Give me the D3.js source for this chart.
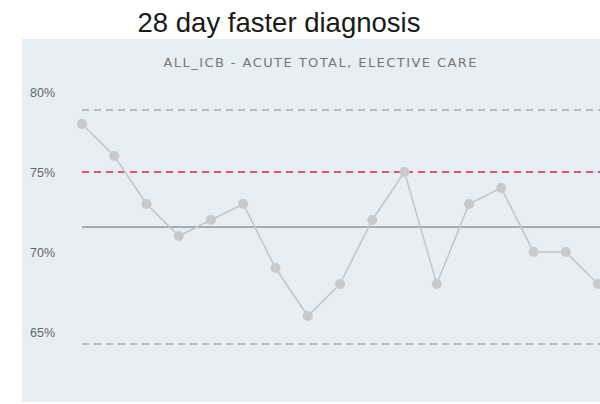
<!DOCTYPE html>
<html>
<head>
<meta charset="utf-8">
<script src="https://cdn.jsdelivr.net/npm/d3@7"></script>
<style>
  html, body { margin: 0; padding: 0; background: #ffffff; }
  svg { display: block; }
</style>
</head>
<body>
<div id="chart"></div>
<script>
// Monthly share of patients given a diagnosis within 28 days (%)
const periods = d3.range(1, 18);
const values = [78, 76, 73, 71, 72, 73, 69, 66, 68, 72, 75, 68, 73, 74, 70, 70, 68];
const tickValues = [65, 70, 75, 80];
const tickLabels = ["65%", "70%", "75%", "80%"];
const meanValue = 71.56;
const upperLimit = 78.88;
const lowerLimit = 64.25;
const targetValue = 75;

const W = 600, H = 404;
const svg = d3.select("#chart").append("svg").attr("width", W).attr("height", H);

// Panel background
svg.append("rect")
  .attr("x", 22).attr("y", 39).attr("width", W - 22).attr("height", 363)
  .attr("fill", "#e7eef4");

// Title and subtitle
svg.append("text")
  .attr("x", 279).attr("y", 32)
  .attr("text-anchor", "middle")
  .attr("font-family", "Liberation Sans, Arial, sans-serif")
  .attr("font-size", 27.5)
  .attr("fill", "#1a1a1a")
  .text("28 day faster diagnosis");

svg.append("text")
  .attr("x", 320).attr("y", 67)
  .attr("text-anchor", "middle")
  .attr("font-family", "DejaVu Sans, sans-serif")
  .attr("font-size", 13)
  .attr("textLength", 313)
  .attr("lengthAdjust", "spacing")
  .attr("fill", "#74777b")
  .text("ALL_ICB - ACUTE TOTAL, ELECTIVE CARE");

const x = d3.scalePoint().domain(periods).range([82, 598]);
const y = d3.scaleLinear().domain([65, 80]).range([332, 92]);

// Y axis labels
const yAxis = d3.axisLeft(y)
  .tickValues(tickValues)
  .tickFormat((d, i) => tickLabels[i])
  .tickSize(0)
  .tickPadding(0);
const gy = svg.append("g").attr("transform", "translate(30,0)").call(yAxis);
gy.select(".domain").remove();
gy.selectAll("text")
  .attr("text-anchor", "start")
  .attr("font-family", "Liberation Sans, Arial, sans-serif")
  .attr("font-size", 12.5)
  .attr("fill", "#63676b");

const x0 = x(periods[0]), x1 = W;

// Control limits
svg.append("line")
  .attr("x1", x0).attr("x2", x1).attr("y1", y(upperLimit)).attr("y2", y(upperLimit))
  .attr("stroke", "#a9adb1").attr("stroke-width", 1.5).attr("stroke-dasharray", "7,5");
svg.append("line")
  .attr("x1", x0).attr("x2", x1).attr("y1", y(lowerLimit)).attr("y2", y(lowerLimit))
  .attr("stroke", "#a9adb1").attr("stroke-width", 1.5).attr("stroke-dasharray", "7,5");

// Target
svg.append("line")
  .attr("x1", x0).attr("x2", x1).attr("y1", y(targetValue)).attr("y2", y(targetValue))
  .attr("stroke", "#e0546f").attr("stroke-width", 1.8).attr("stroke-dasharray", "7,5");

// Mean
svg.append("line")
  .attr("x1", x0).attr("x2", x1).attr("y1", y(meanValue)).attr("y2", y(meanValue))
  .attr("stroke", "#686c70").attr("stroke-width", 1);

// Series line
const line = d3.line().x((d, i) => x(periods[i])).y(d => y(d));
svg.append("path")
  .datum(values)
  .attr("d", line)
  .attr("fill", "none")
  .attr("stroke", "#c3c6c9")
  .attr("stroke-width", 1.5);

// Points
svg.selectAll("circle.pt")
  .data(values)
  .join("circle")
  .attr("class", "pt")
  .attr("cx", (d, i) => x(periods[i]))
  .attr("cy", d => y(d))
  .attr("r", 5)
  .attr("fill", "#c8cbce");
</script>
</body>
</html>
